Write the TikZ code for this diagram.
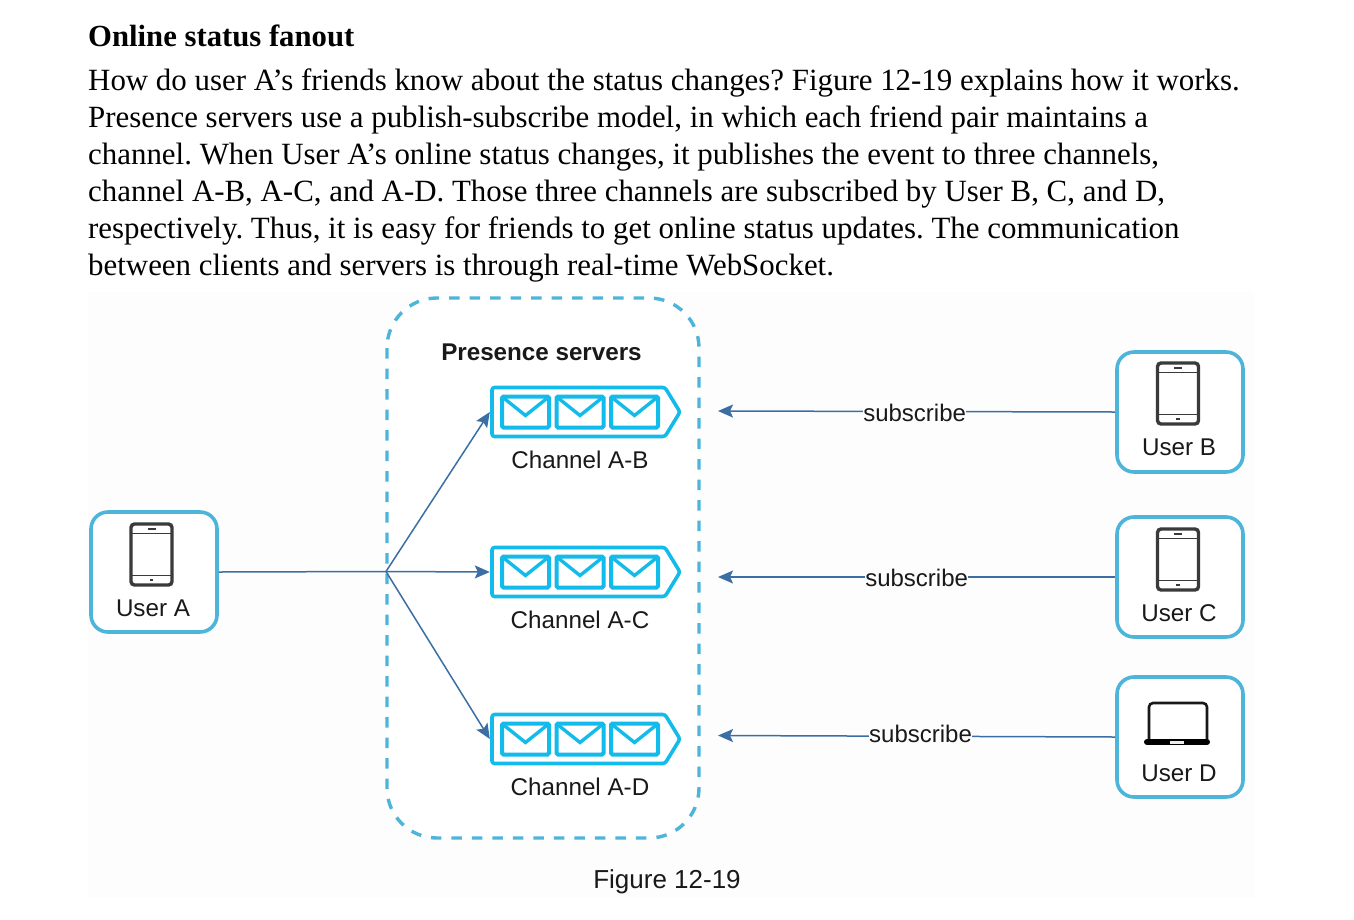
\documentclass[tikz,border=0pt]{standalone}
\usepackage{fontspec}
\setmainfont{Liberation Serif}
\setsansfont{Liberation Sans}
\usetikzlibrary{arrows.meta}
\definecolor{boxblue}{HTML}{4DB5D9}
\definecolor{chanblue}{HTML}{12BBEA}
\definecolor{linkblue}{HTML}{3B6FA3}
\definecolor{devdark}{HTML}{3A3A3A}
\definecolor{panelbg}{HTML}{FDFDFD}
\tikzset{
  x=1pt,y=-1pt,
  para/.style={anchor=base west,inner sep=0pt,font=\fontsize{30.9}{36}\selectfont},
  userbox/.style={draw=boxblue,line width=3.6pt,rounded corners=17pt,minimum width=126pt,minimum height=120pt,inner sep=0pt,fill=white},
  lbl/.style={font=\sffamily\fontsize{24.2}{28}\selectfont,text=black!90,inner sep=0pt},
  subl/.style={font=\sffamily\fontsize{24}{28}\selectfont,text=black!90,inner sep=0pt,fill=panelbg},
  chanbox/.style={minimum width=190pt,minimum height=50pt,inner sep=0pt},
  link/.style={draw=linkblue,line width=1.5pt},
  arr/.style={link,-{Stealth[length=15pt,width=13pt,inset=3pt]}},
  phone/.pic={
    \draw[devdark,line width=3.4pt,rounded corners=3.5pt] (-20.5,-30.5) rectangle (20.5,30.5);
    \draw[devdark,line width=1.6pt] (-20.5,-21) -- (20.5,-21) (-20.5,21) -- (20.5,21);
    \draw[devdark,line width=1.6pt] (-4,-25.7) -- (4,-25.7);
    \fill[devdark] (-1.8,24.5) rectangle (1.8,26.7);
  },
  laptop/.pic={
    \draw[black!90,line width=2.6pt,rounded corners=4pt] (-29,18) -- (-29,-18.5) -- (29,-18.5) -- (29,18);
    \draw[black,line width=6pt,line cap=round] (-31,20.5) -- (29,20.5);
    \fill[white!85!gray] (-8,19) rectangle (6,22);
  },
  channel/.pic={
    \draw[chanblue,line width=3.6pt,line join=round,rounded corners=2.5pt] (-88,-24.5) -- (85,-24.5) -- (100,0) -- (85,24.5) -- (-88,24.5) -- cycle;
    \foreach \ex in {-78,-23.5,31}{
      \draw[chanblue,line width=4pt,rounded corners=1.5pt] (\ex,-15.5) rectangle ++(47,31);
      \draw[chanblue,line width=3.4pt] (\ex+1,-14.5) -- (\ex+23.5,3.5) -- (\ex+46,-14.5);
    }
  },
}
\begin{document}
\begin{tikzpicture}
\frenchspacing
\useasboundingbox (0,0) rectangle (1354,919);
\fill[white] (0,0) rectangle (1354,919);
\fill[panelbg] (88,292) rectangle (1254,898);

\node[para,font=\bfseries\fontsize{30.7}{36}\selectfont] (title) at (88,46) {Online status fanout};
\node[para] (l1) at (88,90) {How do user A’s friends know about the status changes? Figure 12-19 explains how it works.};
\node[para] (l2) at (88,127) {Presence servers use a publish-subscribe model, in which each friend pair maintains a};
\node[para] (l3) at (88,164) {channel. When User A’s online status changes, it publishes the event to three channels,};
\node[para] (l4) at (88,201) {channel A-B, A-C, and A-D. Those three channels are subscribed by User B, C, and D,};
\node[para] (l5) at (88,238) {respectively. Thus, it is easy for friends to get online status updates. The communication};
\node[para] (l6) at (88,275) {between clients and servers is through real-time WebSocket.};

\draw[boxblue,line width=3.4pt,dash pattern=on 10.5pt off 10pt,rounded corners=50pt,fill=white] (387,298) rectangle (699,838);
\node[font=\sffamily\bfseries\fontsize{24.2}{28}\selectfont,inner sep=0pt,text=black!90] (pres) at (541.5,352) {Presence servers};

\node[userbox] (ua) at (154,572) {};
\node[userbox] (ub) at (1180,412) {};
\node[userbox] (uc) at (1180,577) {};
\node[userbox] (ud) at (1180,737) {};
\pic at (151.5,554.5) {phone};
\pic at (1178,393.5) {phone};
\pic at (1178,559.5) {phone};
\pic at (1178,721.5) {laptop};
\node[lbl] (la) at (153,608) {User A};
\node[lbl] (lb) at (1179,447.5) {User B};
\node[lbl] (lc) at (1179,613) {User C};
\node[lbl] (ld) at (1179,773) {User D};

\node[chanbox] (cab) at (585,412) {};
\node[chanbox] (cac) at (585,572) {};
\node[chanbox] (cad) at (585,739) {};
\pic at (580,412) {channel};
\pic at (580,572) {channel};
\pic at (580,739) {channel};
\node[lbl] (tab) at (580,459.5) {Channel A-B};
\node[lbl] (tac) at (580,620) {Channel A-C};
\node[lbl] (tad) at (580,787) {Channel A-D};

\coordinate (hub) at (386,571.5);
\coordinate (sb) at (718,411);
\coordinate (sc) at (718,577);
\coordinate (sd) at (718,735.5);
\draw[link] (ua.east) -- (hub);
\draw[arr] (hub) -- (cab.west);
\draw[arr] (hub) -- (cac.west);
\draw[arr] (hub) -- (cad.west);
\draw[arr] (ub.west) -- (sb) node[subl,pos=.505,yshift=-1pt] {subscribe};
\draw[arr] (uc.west) -- (sc) node[subl,pos=.5,yshift=-1pt] {subscribe};
\draw[arr] (ud.west) -- (sd) node[subl,pos=.49,yshift=2.5pt] {subscribe};

\node[font=\sffamily\fontsize{26}{30}\selectfont,inner sep=0pt,text=black!90] (fig) at (667,882) {Figure 12-19};
\end{tikzpicture}
\end{document}
